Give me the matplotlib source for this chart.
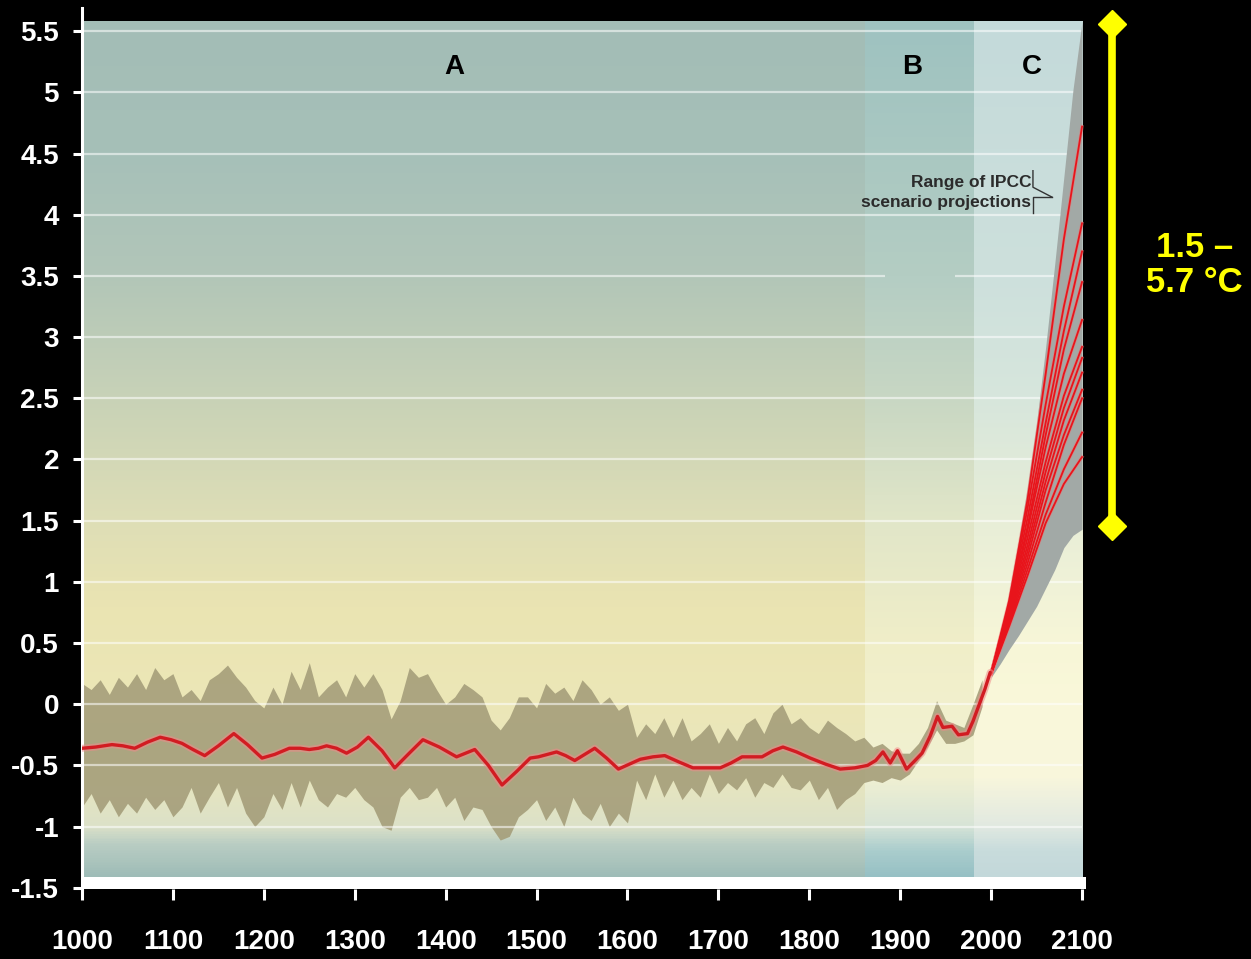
import numpy as np
import matplotlib
matplotlib.use("Agg")
import matplotlib.pyplot as plt

plt.rcParams['font.family'] = ['Liberation Sans', 'DejaVu Sans']

# reconstructed temperature anomaly (smoothed)
recon_years = [1000, 1015, 1033, 1045, 1058, 1072, 1086, 1098, 1110, 1122, 1135, 1150,
               1167, 1182, 1198, 1212, 1228, 1240, 1250, 1260, 1269, 1280, 1291, 1303,
               1315, 1330, 1344, 1360, 1375, 1393, 1412, 1422, 1432, 1447, 1462, 1478,
               1493, 1502, 1512, 1522, 1532, 1542, 1553, 1564, 1577, 1590, 1602, 1614,
               1628, 1641, 1656, 1672, 1687, 1702, 1714, 1726, 1737, 1748, 1760, 1771,
               1786, 1801, 1818, 1834, 1850, 1864, 1873, 1881, 1889, 1897, 1907, 1915,
               1924, 1933, 1941, 1947, 1957, 1964, 1974, 1980, 1986, 1993, 1999]
recon_vals = [-0.36, -0.35, -0.33, -0.34, -0.36, -0.31, -0.27, -0.29, -0.32, -0.37, -0.42, -0.34,
              -0.24, -0.33, -0.44, -0.41, -0.36, -0.36, -0.37, -0.36, -0.34, -0.36, -0.40, -0.35,
              -0.27, -0.38, -0.52, -0.40, -0.29, -0.35, -0.43, -0.40, -0.37, -0.50, -0.66, -0.55,
              -0.44, -0.43, -0.41, -0.39, -0.42, -0.46, -0.41, -0.36, -0.44, -0.53, -0.49, -0.45,
              -0.43, -0.42, -0.47, -0.52, -0.52, -0.52, -0.48, -0.43, -0.43, -0.43, -0.38, -0.35,
              -0.39, -0.44, -0.49, -0.53, -0.52, -0.50, -0.46, -0.39, -0.48, -0.38, -0.53, -0.47,
              -0.40, -0.26, -0.10, -0.19, -0.18, -0.25, -0.24, -0.14, -0.02, 0.12, 0.26]

# uncertainty envelope, one value per decade 1000..1990
env_years = list(range(1000, 2000, 10))
env_upper = [0.17, 0.12, 0.20, 0.08, 0.22, 0.14, 0.25, 0.12, 0.30, 0.20,
             0.25, 0.06, 0.12, 0.03, 0.20, 0.25, 0.32, 0.22, 0.14, 0.03,
             -0.03, 0.14, 0.00, 0.27, 0.12, 0.34, 0.06, 0.14, 0.20, 0.06,
             0.25, 0.14, 0.25, 0.12, -0.12, 0.03, 0.30, 0.22, 0.25, 0.12,
             0.00, 0.06, 0.17, 0.12, 0.06, -0.13, -0.21, -0.11, 0.06, 0.06,
             -0.03, 0.17, 0.09, 0.14, 0.03, 0.20, 0.12, 0.00, 0.06, -0.05,
             0.00, -0.27, -0.16, -0.24, -0.11, -0.27, -0.11, -0.30, -0.24, -0.16,
             -0.32, -0.19, -0.30, -0.16, -0.11, -0.24, -0.07, 0.00, -0.16, -0.11,
             -0.19, -0.24, -0.13, -0.19, -0.24, -0.30, -0.27, -0.35, -0.32, -0.38,
             -0.40, -0.40, -0.32, -0.19, 0.03, -0.13, -0.16, -0.19, 0.00, 0.20]
env_lower = [-0.84, -0.73, -0.89, -0.78, -0.92, -0.81, -0.89, -0.76, -0.86, -0.78,
             -0.92, -0.84, -0.68, -0.89, -0.76, -0.64, -0.84, -0.68, -0.89, -1.00,
             -0.92, -0.73, -0.86, -0.64, -0.84, -0.62, -0.78, -0.84, -0.73, -0.76,
             -0.68, -0.78, -0.84, -1.00, -1.03, -0.76, -0.68, -0.78, -0.76, -0.68,
             -0.84, -0.76, -0.95, -0.84, -0.86, -1.00, -1.11, -1.08, -0.92, -0.86,
             -0.78, -0.95, -0.84, -1.00, -0.76, -0.89, -0.95, -0.81, -1.00, -0.89,
             -0.97, -0.62, -0.78, -0.57, -0.76, -0.62, -0.78, -0.68, -0.76, -0.57,
             -0.73, -0.64, -0.70, -0.60, -0.76, -0.64, -0.68, -0.57, -0.68, -0.70,
             -0.62, -0.78, -0.68, -0.86, -0.78, -0.73, -0.64, -0.62, -0.64, -0.60,
             -0.62, -0.57, -0.46, -0.35, -0.21, -0.32, -0.32, -0.30, -0.25, -0.02]

# IPCC projection range and scenario lines
proj_years = [2000, 2010, 2020, 2030, 2040, 2050, 2060, 2070, 2080, 2090, 2100]
proj_upper = [0.25, 0.55, 0.92, 1.33, 1.78, 2.30, 2.92, 3.60, 4.31, 5.02, 5.58]
proj_lower = [0.22, 0.33, 0.45, 0.56, 0.68, 0.80, 0.95, 1.10, 1.28, 1.38, 1.43]

scen_years = [2000, 2020, 2040, 2060, 2080, 2100]
scenarios = [
    [0.25, 0.85, 1.67, 2.70, 3.80, 4.72],
    [0.25, 0.83, 1.60, 2.45, 3.25, 3.93],
    [0.25, 0.82, 1.52, 2.30, 3.05, 3.70],
    [0.25, 0.80, 1.45, 2.20, 2.90, 3.45],
    [0.25, 0.78, 1.42, 2.10, 2.70, 3.14],
    [0.25, 0.76, 1.36, 1.98, 2.52, 2.92],
    [0.25, 0.74, 1.30, 1.90, 2.42, 2.83],
    [0.25, 0.72, 1.25, 1.82, 2.32, 2.71],
    [0.25, 0.70, 1.20, 1.75, 2.20, 2.57],
    [0.25, 0.68, 1.15, 1.65, 2.12, 2.50],
    [0.25, 0.66, 1.10, 1.55, 1.92, 2.22],
    [0.25, 0.64, 1.05, 1.48, 1.80, 2.02],
]

xticks = list(range(1000, 2101, 100))
yticks = [-1.5, -1, -0.5, 0, 0.5, 1, 1.5, 2, 2.5, 3, 3.5, 4, 4.5, 5, 5.5]
ytick_labels = ['-1.5', '-1', '-0.5', '0', '0.5', '1', '1.5', '2', '2.5', '3',
                '3.5', '4', '4.5', '5', '5.5']

fig = plt.figure(figsize=(12.51, 9.59), dpi=100, facecolor='black')
ax = fig.add_axes([0.06555, 0.0730, 0.8023, 0.9187])
ax.set_facecolor('black')
ax.set_xlim(1000, 2104)
ax.set_ylim(-1.51, 5.69)

# background: vertical colour gradients for the three periods
img_top, img_bot = 5.58, -1.41
ys = np.linspace(img_top, img_bot, 500)
stops_a = [(-1.41, (158, 188, 183)), (-1.15, (185, 205, 195)), (-1.0, (220, 225, 200)),
           (-0.6, (232, 230, 190)), (0.0, (236, 231, 183)), (0.8, (234, 228, 178)),
           (1.5, (222, 222, 182)), (2.5, (200, 210, 183)), (3.5, (178, 198, 184)),
           (4.5, (166, 192, 184)), (5.58, (163, 189, 182))]
stops_b = [(-1.41, (150, 192, 196)), (-1.2, (170, 205, 205)), (-1.0, (215, 228, 215)),
           (-0.6, (240, 240, 210)), (0.0, (242, 240, 205)), (0.5, (240, 238, 200)),
           (1.5, (225, 230, 200)), (2.5, (200, 215, 195)), (3.5, (180, 205, 195)),
           (5.58, (158, 194, 192))]
stops_c = [(-1.41, (195, 216, 218)), (-1.2, (200, 220, 220)), (-1.0, (225, 233, 225)),
           (-0.6, (248, 246, 220)), (0.0, (250, 248, 218)), (0.5, (247, 246, 215)),
           (1.5, (232, 238, 215)), (2.5, (215, 230, 220)), (3.5, (205, 224, 220)),
           (5.58, (196, 218, 218))]


def column(stops):
    v = [s[0] for s in stops]
    return np.stack([np.interp(ys, v, [s[1][k] for s in stops]) for k in range(3)], axis=1)


col_a, col_b, col_c = column(stops_a), column(stops_b), column(stops_c)
bg = np.zeros((len(ys), 1100, 3))
for i, yr in enumerate(range(1000, 2100)):
    bg[:, i] = col_a if yr < 1860 else (col_b if yr < 1980 else col_c)
ax.imshow(bg / 255.0, extent=[1000, 2100, img_bot, img_top], aspect='auto',
          interpolation='nearest', zorder=0)

# uncertainty band
ax.fill_between(env_years, env_lower, env_upper, color='#a59e7a', alpha=0.9,
                linewidth=0, zorder=1)

# grid lines
for y in yticks[1:]:
    if y == 3.5:
        ax.hlines([y, y], [1000, 1960], [1883, 2100], color='white', alpha=0.55, lw=1.6, zorder=2)
    else:
        ax.hlines(y, 1000, 2100, color='white', alpha=0.55, lw=1.6, zorder=2)

# projection range
ax.fill_between(proj_years, proj_lower, proj_upper, color='#a2a9a6', linewidth=0, zorder=3)
for s in scenarios:
    ax.plot(scen_years, s, color='#f07070', lw=2.4, alpha=0.5, zorder=4)
    ax.plot(scen_years, s, color='#e8141b', lw=1.3, zorder=5)

# reconstruction
ax.plot(recon_years, recon_vals, color='#f08a8a', lw=5, alpha=0.55, zorder=6,
        solid_joinstyle='round', solid_capstyle='round')
ax.plot(recon_years, recon_vals, color='#d21c22', lw=2.4, zorder=7,
        solid_joinstyle='round', solid_capstyle='round')

# x-axis bar
ax.axhspan(-1.51, -1.41, xmin=0, xmax=1, color='white', zorder=8, lw=0)

# period letters
for lbl, x in [('A', 1410), ('B', 1913), ('C', 2045)]:
    ax.text(x, 5.21, lbl, fontsize=20, fontweight='bold', color='black',
            ha='center', va='center', zorder=9)

# IPCC label
ax.text(2044, 4.225, 'Range of IPCC', fontsize=12.5, fontweight='bold', color='#2b2b2b',
        ha='right', va='baseline', zorder=9)
ax.text(2044, 4.06, 'scenario projections', fontsize=12.5, fontweight='bold', color='#2b2b2b',
        ha='right', va='baseline', zorder=9)
ax.plot([2046, 2046, 2067], [4.36, 4.225, 4.144], color='#333333', lw=1, zorder=9)
ax.plot([2046, 2046, 2067], [4.013, 4.144, 4.144], color='#333333', lw=1, zorder=9)

# yellow range marker
ax.plot([2133, 2133], [1.46, 5.56], color='#ffff00', lw=5.5, clip_on=False, zorder=10)
ax.plot([2133, 2133], [1.46, 5.56], ls='none', marker='D', ms=14, color='#ffff00',
        clip_on=False, zorder=10)
ax.text(2224, 3.59, '1.5 –\n5.7 °C', fontsize=25, fontweight='bold', color='#ffff00',
        ha='center', va='center', linespacing=1.1, clip_on=False)

# axes styling
for side in ['top', 'right', 'bottom']:
    ax.spines[side].set_visible(False)
ax.spines['left'].set_color('white')
ax.spines['left'].set_linewidth(2.2)
ax.set_xticks(xticks)
ax.set_xticklabels([str(x) for x in xticks])
ax.set_yticks(yticks)
ax.set_yticklabels(ytick_labels)
ax.tick_params(axis='x', colors='white', length=8, width=2.2, pad=21, labelsize=20)
ax.tick_params(axis='y', colors='white', length=6.5, width=2.2, pad=10, labelsize=20)
for t in ax.get_xticklabels() + ax.get_yticklabels():
    t.set_fontweight('bold')

fig.savefig('out.png', dpi=100, facecolor='black')
